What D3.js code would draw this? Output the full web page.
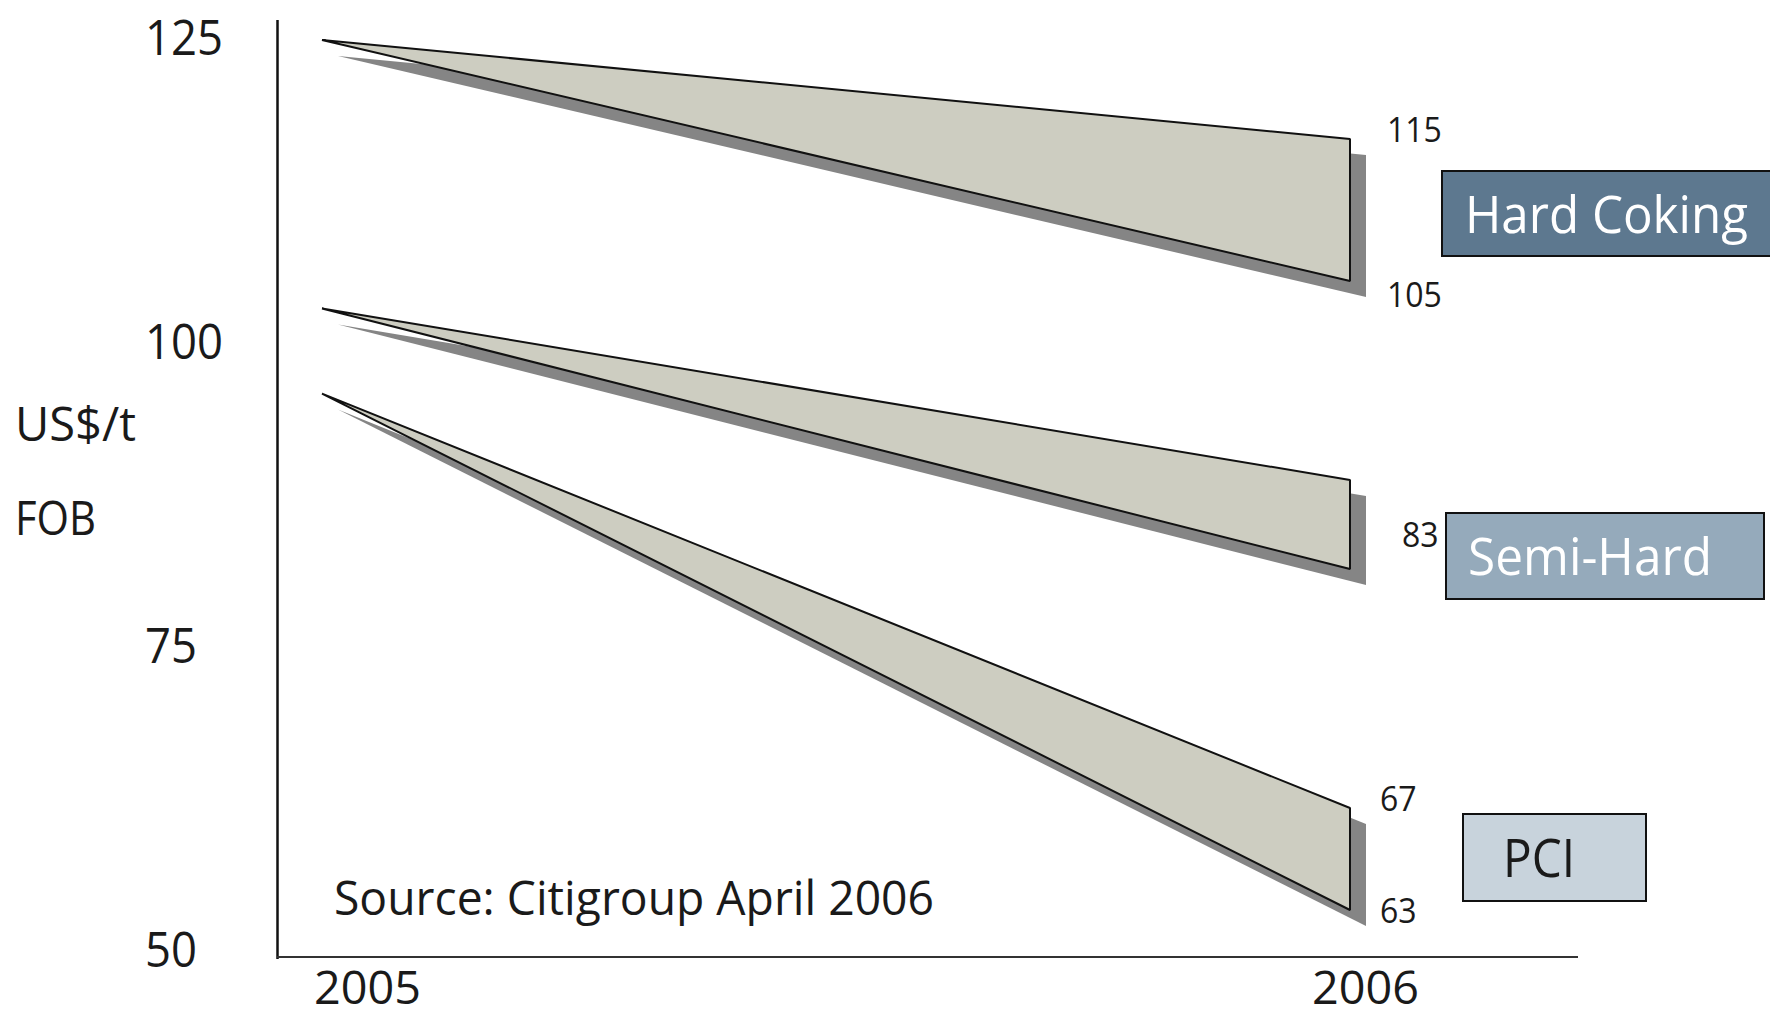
<!DOCTYPE html>
<html>
<head>
<meta charset="utf-8">
<script src="https://cdn.jsdelivr.net/npm/d3@7"></script>
<style>
  html, body { margin: 0; padding: 0; background: #ffffff; }
  svg { display: block; }
  text { font-family: "Open Sans", "Noto Sans", sans-serif; fill: #1a1a1a; }
</style>
</head>
<body>
<svg id="chart" width="1770" height="1018"></svg>
<script>
// Coal contract prices (US$/t FOB): 2005 settlement and the 2006 range per grade
const grades = ["Hard Coking", "Semi-Hard", "PCI"];
const years = [2005, 2006];
const price2005 = [124.3, 102.5, 95.8];
const price2006High = [115, 89.5, 67];
const price2006Low = [105, 83, 63];
const highLabels = ["115", "", "67"];
const lowLabels = ["105", "83", "63"];
const yTicks = [50, 75, 100, 125];
const unitLines = ["US$/t", "FOB"];
const sourceNote = "Source: Citigroup April 2006";

// ---- layout & style (kept apart from the data) ----
const svg = d3.select("#chart");

// The price axis is schematic: each printed price sits at its own height,
// so the scale is piecewise linear through those prices.
const y = d3.scaleLinear()
  .domain([50, 63, 67, 75, 83, 100, 105, 115, 125])
  .range([944, 910, 808, 640, 569, 336, 281, 139, 32.5]);

const x = d3.scaleLinear().domain(years).range([322, 1350]);
const xLabel = d3.scaleLinear().domain(years).range([367, 1365]);

const shadowOffset = 16;
const wedgeFill = "#cdcdc1";
const shadowFill = "#858585";

const boxLayout = [
  { x: 1442, y: 171, w: 345, h: 85, fill: "#5d788f", ink: "#ffffff", tx: 1465, by: 233, tw: 283, fs: 51 },
  { x: 1446, y: 513, w: 318, h: 86, fill: "#95aabb", ink: "#ffffff", tx: 1468, by: 575, tw: 244, fs: 51 },
  { x: 1463, y: 814, w: 183, h: 87, fill: "#c8d3dc", ink: "#1a1a1a", tx: 1503, by: 877, tw: 72, fs: 53 }
];
const labelLayout = [
  { hx: 1387, hdy: 3, lx: 1387, ldy: 26 },
  { hx: 1387, hdy: 3, lx: 1402, ldy: -22 },
  { hx: 1380, hdy: 3, lx: 1380, ldy: 13 }
];
const digitW = 18.3;   // advance of a value-label digit
const tickDigitW = 26; // advance of a tick-label digit

// ---- wedges: 2005 price fanning out to the 2006 range ----
const rows = grades.map((g, i) => ({
  grade: g, p05: price2005[i], hi: price2006High[i], lo: price2006Low[i], i
}));

const wedgePts = d => [
  [x(years[0]), y(d.p05)],
  [x(years[1]), y(d.hi)],
  [x(years[1]), y(d.lo)]
];
const line = d3.line().curve(d3.curveLinearClosed);

const wedges = svg.append("g").attr("class", "wedges")
  .selectAll("g").data(rows).join("g");

wedges.append("path")
  .attr("d", d => line(wedgePts(d)))
  .attr("transform", `translate(${shadowOffset},${shadowOffset})`)
  .attr("fill", shadowFill);

wedges.append("path")
  .attr("d", d => line(wedgePts(d)))
  .attr("fill", wedgeFill)
  .attr("stroke", "#111111")
  .attr("stroke-width", 2)
  .attr("stroke-linejoin", "bevel");

// ---- axes frame ----
svg.append("line")
  .attr("x1", 277.5).attr("x2", 277.5).attr("y1", 20).attr("y2", 959)
  .attr("stroke", "#111111").attr("stroke-width", 2.5);
svg.append("line")
  .attr("x1", 277).attr("x2", 1578).attr("y1", 957).attr("y2", 957)
  .attr("stroke", "#333333").attr("stroke-width", 2);

// y tick labels (left aligned, no tick marks)
const yAxis = svg.append("g")
  .attr("transform", "translate(145,4)")
  .call(d3.axisLeft(y).tickValues(yTicks).tickSize(0).tickPadding(0).tickFormat(d3.format("d")));
yAxis.select(".domain").remove();
yAxis.selectAll("text")
  .attr("x", 0).attr("dy", "0.36em")
  .attr("text-anchor", "start")
  .style("font-family", '"Open Sans", sans-serif')
  .style("font-size", "50px")
  .attr("fill", "#1a1a1a")
  .attr("textLength", d => String(d).length * tickDigitW)
  .attr("lengthAdjust", "spacingAndGlyphs");

// x tick labels
const xAxis = svg.append("g")
  .attr("transform", "translate(0,1004)")
  .call(d3.axisBottom(xLabel).tickValues(years).tickSize(0).tickPadding(0).tickFormat(d3.format("d")));
xAxis.select(".domain").remove();
xAxis.selectAll("text")
  .attr("y", 0).attr("dy", 0)
  .style("font-family", '"Open Sans", sans-serif')
  .style("font-size", "46px")
  .attr("fill", "#1a1a1a")
  .attr("textLength", 107)
  .attr("lengthAdjust", "spacingAndGlyphs");

// unit caption
svg.append("g").selectAll("text").data(unitLines).join("text")
  .attr("x", 15)
  .attr("y", (d, i) => 441 + i * 94)
  .attr("font-size", 47)
  .attr("textLength", (d, i) => i === 0 ? 121 : 81)
  .attr("lengthAdjust", "spacingAndGlyphs")
  .text(d => d);

// ---- 2006 value labels ----
const labels = svg.append("g").attr("class", "value-labels");
rows.forEach(d => {
  const L = labelLayout[d.i];
  if (highLabels[d.i]) {
    labels.append("text")
      .attr("x", L.hx).attr("y", y(d.hi) + L.hdy)
      .attr("font-size", 34)
      .attr("textLength", highLabels[d.i].length * digitW)
      .attr("lengthAdjust", "spacingAndGlyphs")
      .text(highLabels[d.i]);
  }
  if (lowLabels[d.i]) {
    labels.append("text")
      .attr("x", L.lx).attr("y", y(d.lo) + L.ldy)
      .attr("font-size", 34)
      .attr("textLength", lowLabels[d.i].length * digitW)
      .attr("lengthAdjust", "spacingAndGlyphs")
      .text(lowLabels[d.i]);
  }
});

// ---- grade boxes ----
const boxes = svg.append("g").attr("class", "grade-boxes")
  .selectAll("g").data(rows).join("g");
boxes.append("rect")
  .attr("x", d => boxLayout[d.i].x).attr("y", d => boxLayout[d.i].y)
  .attr("width", d => boxLayout[d.i].w).attr("height", d => boxLayout[d.i].h)
  .attr("fill", d => boxLayout[d.i].fill)
  .attr("stroke", "#111111").attr("stroke-width", 2);
boxes.append("text")
  .attr("x", d => boxLayout[d.i].tx).attr("y", d => boxLayout[d.i].by)
  .attr("font-size", d => boxLayout[d.i].fs)
  .attr("textLength", d => boxLayout[d.i].tw)
  .attr("lengthAdjust", "spacingAndGlyphs")
  .style("fill", d => boxLayout[d.i].ink)
  .text(d => d.grade);

// ---- source note ----
svg.append("text")
  .attr("x", 334).attr("y", 915)
  .attr("font-size", 48)
  .attr("textLength", 600)
  .attr("lengthAdjust", "spacingAndGlyphs")
  .text(sourceNote);
</script>
</body>
</html>
